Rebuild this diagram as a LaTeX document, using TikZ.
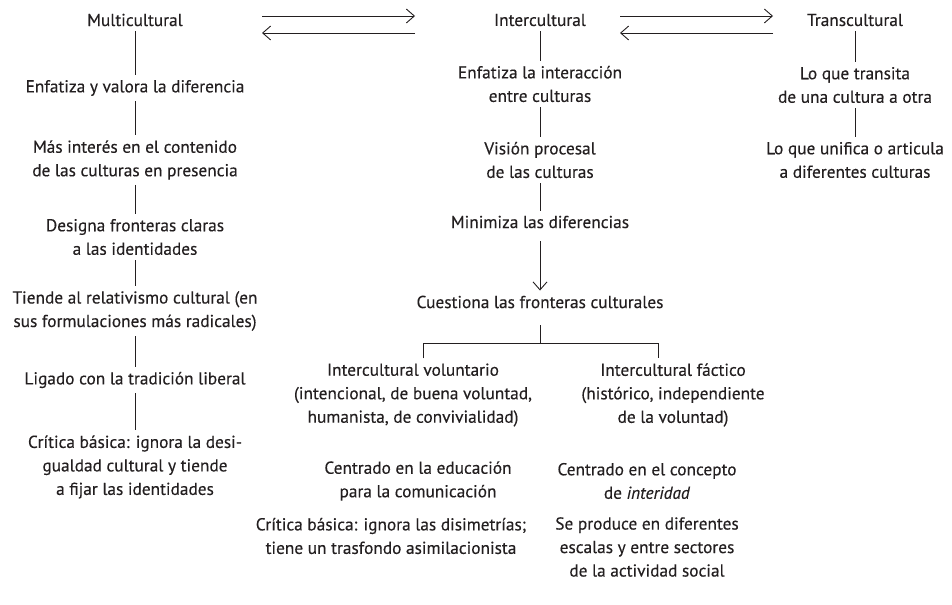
\documentclass[tikz,border=0pt]{standalone}
\usepackage{fontspec}
\setmainfont[FakeBold=0.3]{PT Sans}
\usetikzlibrary{arrows.meta,calc}
\definecolor{ink}{HTML}{231F20}
\begin{document}
\begin{tikzpicture}[x=1bp,y=-1bp,
  txt/.style={font=\fontsize{17.3bp}{23.5bp}\selectfont, align=center, inner sep=5bp, text=ink},
  conn/.style={draw=ink, line width=0.9bp},
  arr/.style={conn, -{Straight Barb[length=8bp,width=14bp]}}]
\useasboundingbox (0,0) rectangle (952,605);
% column 1
\node[txt] (m0) at (135,20) {Multicultural};
\node[txt] (m1) at (135,88) {Enfatiza y valora la diferencia};
\node[txt] (m2) at (135,160) {Más interés en el contenido\\de las culturas en presencia};
\node[txt] (m3) at (135,237) {Designa fronteras claras\\a las identidades};
\node[txt] (m4) at (135,311) {Tiende al relativismo cultural (en\\sus formulaciones más radicales)};
\node[txt] (m5) at (135,380) {Ligado con la tradición liberal};
\node[txt] (m6) at (135,467) {Crítica básica: ignora la desi-\\gualdad cultural y tiende\\a fijar las identidades};
% column 2
\node[txt] (i0) at (540,20) {Intercultural};
\node[txt] (i1) at (540,84) {Enfatiza la interacción\\entre culturas};
\node[txt] (i2) at (540,160) {Visión procesal\\de las culturas};
\node[txt] (i3) at (540,222) {Minimiza las diferencias};
\node[txt] (i4) at (540,302) {Cuestiona las fronteras culturales};
% column 3
\node[txt] (t0) at (855,20) {Transcultural};
\node[txt] (t1) at (855,85) {Lo que transita\\de una cultura a otra};
\node[txt] (t2) at (855,160) {Lo que unifica o articula\\a diferentes culturas};
% branches
\node[txt] (v0) at (413,395) {Intercultural voluntario\\(intencional, de buena voluntad,\\humanista, de convivialidad)};
\node[txt] (v1) at (418,481) {Centrado en la educación\\para la comunicación};
\node[txt] (v2) at (391,536) {Crítica básica: ignora las disimetrías;\\tiene un trasfondo asimilacionista};
\node[txt] (f0) at (673,395) {Intercultural fáctico\\(histórico, independiente\\de la voluntad)};
\node[txt] (f1) at (647,481) {Centrado en el concepto\\de \textit{interidad}};
\node[txt] (f2) at (647,547) {Se produce en diferentes\\escalas y entre sectores\\de la actividad social};
% connectors
\draw[conn] (m0) -- (m1);
\draw[conn] (m1) -- (m2);
\draw[conn] (m2) -- (m3);
\draw[conn] (m3) -- (m4);
\draw[conn] (m4) -- (m5);
\draw[conn] (m5) -- (m6);
\draw[conn] (i0) -- (i1);
\draw[conn] (i1) -- (i2);
\draw[conn] (i2) -- (i3);
\draw[arr, shorten <=8bp] (i3) -- (i4);
\draw[conn] (t0) -- (t1);
\draw[conn] (t1) -- (t2);
\coordinate (bl) at (423,343);
\coordinate (br) at (658,343);
\draw[conn, shorten <=12bp] (i4) -- (i4 |- bl);
\draw[conn] (bl |- v0.north) -- (bl) -- (br) -- (br |- f0.north);
% exchange arrows
\coordinate (a1) at (262,16);
\coordinate (a2) at (415,16);
\coordinate (a3) at (415,33);
\coordinate (a4) at (262,33);
\coordinate (b1) at (620,16);
\coordinate (b2) at (773,16);
\coordinate (b3) at (773,33);
\coordinate (b4) at (620,33);
\draw[arr] (a1) -- (a2);
\draw[arr] (a3) -- (a4);
\draw[arr] (b1) -- (b2);
\draw[arr] (b3) -- (b4);
\end{tikzpicture}
\end{document}
